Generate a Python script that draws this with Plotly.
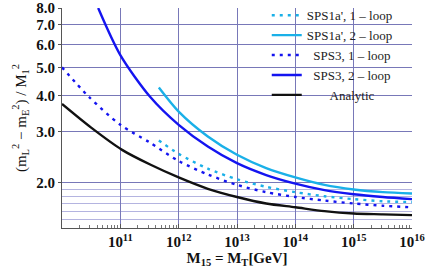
import plotly.graph_objects as go
import math

# log10 of M15 = MT [GeV] and the ratio values
lx_sps1a_1 = [11.66, 12.0, 12.5, 13.0, 13.5, 14.0, 14.5, 15.0, 15.5, 16.0]
y_sps1a_1 = [2.80, 2.52, 2.24, 2.06, 1.94, 1.86, 1.80, 1.76, 1.73, 1.72]

lx_sps1a_2 = [11.66, 12.0, 12.5, 13.0, 13.5, 14.0, 14.5, 15.0, 15.5, 16.0]
y_sps1a_2 = [4.26, 3.52, 2.89, 2.50, 2.25, 2.09, 1.97, 1.90, 1.86, 1.84]

lx_sps3_1 = [10.0, 10.46, 11.0, 11.5, 12.0, 12.5, 13.0, 13.5, 14.0, 14.5, 15.0, 15.5, 16.0]
y_sps3_1 = [5.00, 3.96, 3.17, 2.76, 2.38, 2.14, 1.97, 1.86, 1.79, 1.74, 1.70, 1.67, 1.65]

lx_sps3_2 = [10.62, 11.0, 11.51, 12.0, 12.5, 13.0, 13.5, 14.0, 14.5, 15.0, 15.5, 16.0]
y_sps3_2 = [8.00, 5.51, 3.96, 3.17, 2.67, 2.34, 2.13, 1.99, 1.89, 1.83, 1.79, 1.76]

lx_analytic = [10.0, 10.5, 11.03, 11.52, 12.0, 12.5, 13.0, 13.5, 14.0, 14.5, 15.0, 15.5, 16.0]
y_analytic = [3.74, 3.10, 2.60, 2.31, 2.09, 1.91, 1.79, 1.70, 1.65, 1.60, 1.57, 1.56, 1.55]

x_tick_exps = [11, 12, 13, 14, 15, 16]
y_major = [2.0, 3.0, 4.0, 5.0, 6.0, 7.0, 8.0]
y_major_labels = ["2.0", "3.0", "4.0", "5.0", "6.0", "7.0", "8.0"]
y_minor = [1.5, 1.6, 1.7, 1.8, 1.9]

CYAN = "#1ab0e8"
BLUE = "#1414f0"
BLACK = "#111111"
SERIF = "Liberation Serif"
NB = "\u00a0"

def tx(lx):
    return [10 ** v for v in lx]

fig = go.Figure()
series = [
    ("SPS1a', 1 \u2013 loop", lx_sps1a_1, y_sps1a_1, CYAN, "3px,5px"),
    ("SPS1a', 2 \u2013 loop", lx_sps1a_2, y_sps1a_2, CYAN, "solid"),
    (NB * 2 + "SPS3, 1 \u2013 loop", lx_sps3_1, y_sps3_1, BLUE, "3px,5px"),
    (NB * 2 + "SPS3, 2 \u2013 loop", lx_sps3_2, y_sps3_2, BLUE, "solid"),
    (NB * 7 + "Analytic", lx_analytic, y_analytic, BLACK, "solid"),
]
for name, lx, y, col, dash in series:
    fig.add_trace(go.Scatter(
        x=tx(lx), y=y, name=name, mode="lines",
        line=dict(color=col, width=2.4, dash=dash, shape="spline", smoothing=0.8),
    ))

fig.update_layout(
    width=436, height=273,
    margin=dict(l=62, r=24, t=8, b=45, autoexpand=False),
    paper_bgcolor="white", plot_bgcolor="white",
    font=dict(family=SERIF, size=14, color="#111111"),
    showlegend=True,
    legend=dict(
        x=0.585, y=1.035, xanchor="left", yanchor="top",
        bgcolor="rgba(0,0,0,0)", borderwidth=0,
        font=dict(family=SERIF, size=13, color="#222222"),
        tracegroupgap=0,
    ),
    xaxis=dict(
        type="log", range=[10, 16], automargin=False,
        tickvals=[10 ** e for e in x_tick_exps],
        ticktext=["<b>10<sup>%d</sup></b>" % e for e in x_tick_exps],
        tickfont=dict(family=SERIF, size=15, color="#111111"),
        showgrid=True, gridcolor="#7878b8", gridwidth=1,
        showline=True, linecolor="#555555", linewidth=1,
        ticks="inside", ticklen=4, tickcolor="#555555",
        minor=dict(dtick="D1", ticks="inside", ticklen=3, tickcolor="#777777", showgrid=False),
        zeroline=False,
        title=dict(text="<b>M<sub>15</sub> = M<sub>T</sub>[GeV]</b>",
                   font=dict(family=SERIF, size=15, color="#111111"), standoff=2),
    ),
    yaxis=dict(
        type="log", range=[math.log10(1.4), math.log10(8.0)], automargin=False,
        tickvals=y_major, ticktext=["<b>%s</b>" % t for t in y_major_labels],
        tickfont=dict(family=SERIF, size=15, color="#111111"),
        showgrid=True, gridcolor="#7878b8", gridwidth=1,
        showline=True, linecolor="#555555", linewidth=1,
        ticks="outside", ticklen=3, tickcolor="#555555",
        minor=dict(tickvals=y_minor, ticks="", showgrid=True, gridcolor="#b4b4e0", gridwidth=1),
        zeroline=False,
        title=dict(text="(m<sub>L</sub><sup>2</sup> \u2212 m<sub>E</sub><sup>2</sup>) / M<sub>1</sub><sup>2</sup>",
                   font=dict(family=SERIF, size=15, color="#111111"), standoff=6),
    ),
)

fig.write_html("out.html", config={"displayModeBar": False},
               post_script="document.body.style.margin='0px';")
